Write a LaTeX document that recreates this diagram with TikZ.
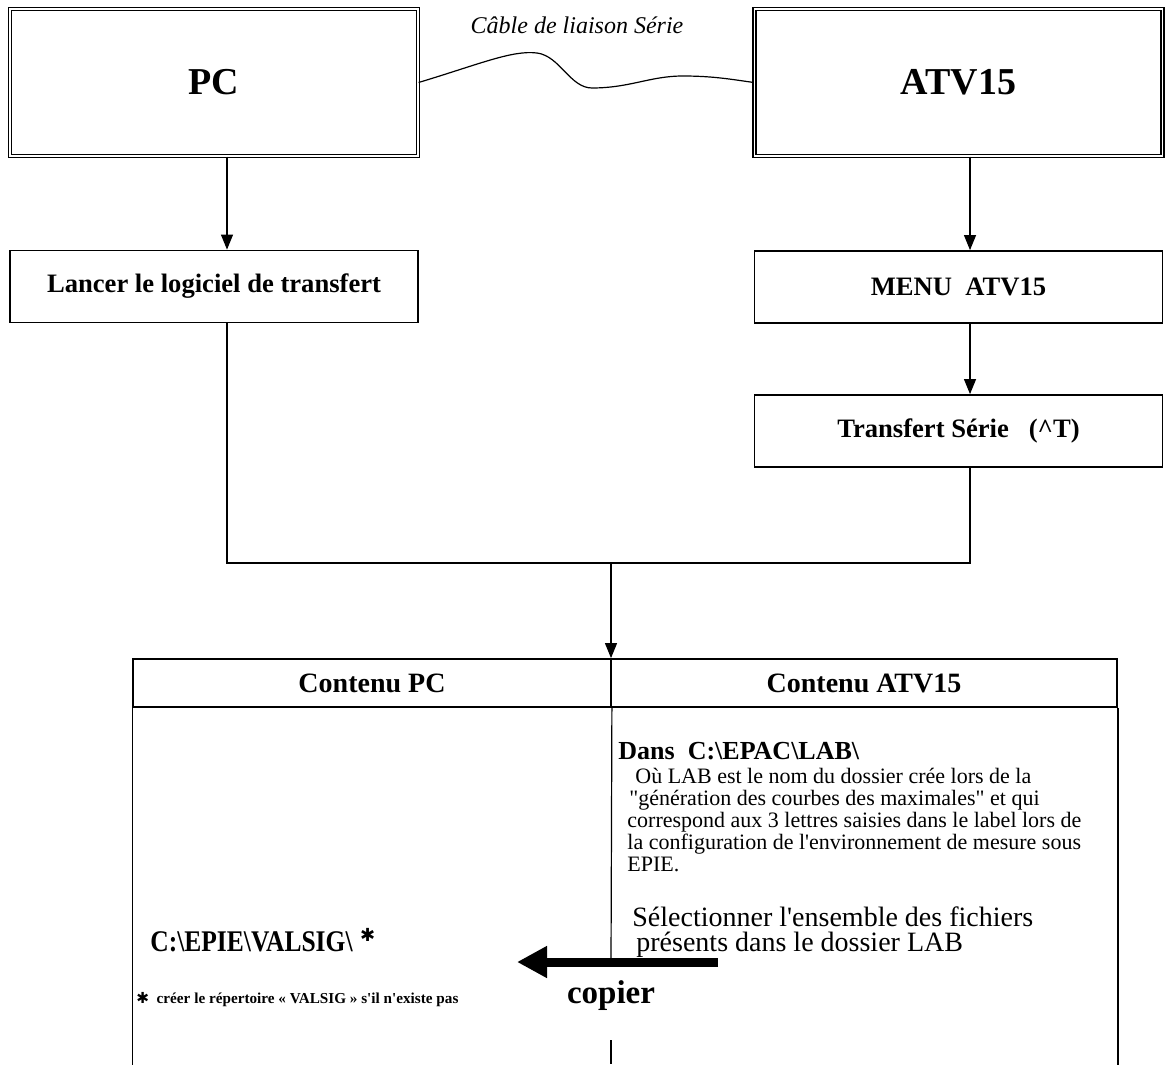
\documentclass[tikz,border=0pt]{standalone}
\usepackage{fontspec}
\setmainfont{Liberation Serif}[Ligatures=TeXOff]
\newfontfamily\symfont{DejaVu Sans}
\usepackage{tikz}
\usetikzlibrary{calc}
\usetikzlibrary{arrows.meta}
\tikzset{>=latex}
\tikzset{bigbox/.style = {draw, double, double distance=0.9pt, line width=0.6pt,
    minimum width=204pt, minimum height=73.5pt, font=\bfseries\fontsize{19}{22}\selectfont}}
\tikzset{stepbox/.style = {draw, line width=0.9pt, minimum width=204pt, minimum height=36pt,
    font=\bfseries\fontsize{13.3}{15}\selectfont}}
\tikzset{headcell/.style = {draw, line width=0.9pt, minimum height=24pt,
    font=\bfseries\fontsize{14}{16}\selectfont}}
\tikzset{arr/.style = {-{Triangle[width=6pt,length=7.5pt]}, line width=0.55pt}}
\tikzset{tbl/.style = {line width=0.6pt}}

\begin{document}
\begin{tikzpicture}[x=0.5pt,y=-0.5pt]
                    \useasboundingbox (0,0) rectangle (1165,1064);

                    \node[bigbox] (pc) at (214,82.5) {PC};
                    \node[bigbox] (atv) at (958.5,82.5) {ATV15};
                    \node[stepbox] (lancer) at (214,286.5) {Lancer le logiciel de transfert};
                    \node[stepbox] (menu) at (958.5,287) {MENU\ \ ATV15};
                    \node[stepbox] (transfert) at (958.5,431) {Transfert Série\ \ \ (\textasciicircum T)};

                    % cable serie
                    \node[font=\itshape\fontsize{12}{14}\selectfont] (cable) at (577,25) {Câble de liaison Série};
                    \draw[line width=0.6pt] (pc.east) .. controls (480,64) and (512,50) .. (537,53)
                        .. controls (560,56) and (570,88) .. (592,88)
                        .. controls (630,88) and (650,76) .. (683,76)
                        .. controls (715,76) and (735,80) .. (atv.west);

                    \coordinate (c1) at (227,0);
                    \coordinate (c2) at (970,0);
                    \coordinate (jn) at (611,563);

                    \draw[arr] (pc.south -| c1) -- (lancer.north -| c1);
                    \draw[arr] (atv.south -| c2) -- (menu.north -| c2);
                    \draw[arr] (menu.south -| c2) -- (transfert.north -| c2);
                    \draw[line width=0.55pt] (lancer.south -| c1) |- (jn) -| (transfert.south -| c2);

                    % tableau
                    \node[headcell, minimum width=239pt] (hpc) at (372,683) {Contenu PC};
                    \node[headcell, minimum width=253pt] (hatv) at (864,683) {Contenu ATV15};
                    \draw[arr] (jn) -- (jn |- hpc.north);
                    \draw[tbl] (hpc.south west) -- +(0,357);
                    \draw[tbl] (hatv.south east) -- +(0,357);
                    \draw[tbl] (hpc.south east) -- (611,962);
                    \draw[tbl] (611,1040) -- (611,1064);

                    \node[anchor=base west, inner sep=0, font=\bfseries\fontsize{13}{15}\selectfont] (dans) at (618,759)
                        {Dans\ \ C:\textbackslash EPAC\textbackslash LAB\textbackslash};
                    \node[anchor=base west, inner sep=0, align=left, font=\fontsize{11}{11}\selectfont] (expl) at (627,871)
                        {\hspace{4pt}Où LAB est le nom du dossier crée lors de la\\
                         \hspace{1pt}"génération des courbes des maximales" et qui\\
                         correspond aux 3 lettres saisies dans le label lors de\\
                         la configuration de l'environnement de mesure sous\\
                         EPIE.};
                    \node[anchor=base west, inner sep=0, align=left, font=\fontsize{14}{12.5}\selectfont] (select) at (632,951)
                        {Sélectionner l'ensemble des fichiers\\
                         \hspace{2pt}présents dans le dossier LAB};

                    \node[anchor=base west, inner sep=0, font=\bfseries\fontsize{15}{17}\selectfont] (valsig) at (150,951)
                        {\scalebox{0.85}[1]{C:\textbackslash EPIE\textbackslash VALSIG\textbackslash}\ \raisebox{5pt}{\symfont\fontsize{9}{9}\selectfont ✱}};
                    \node[anchor=base west, inner sep=0, font=\bfseries\fontsize{7.6}{9}\selectfont] (foot) at (136,1003)
                        {{\symfont ✱}\ \ créer le répertoire « VALSIG » s'il n'existe pas};

                    % copier
                    \coordinate (cpfrom) at (718,962);
                    \coordinate (cpto) at (517,962);
                    \draw[line width=4.5pt, -{Triangle[width=15pt,length=15pt]}] (cpfrom) -- (cpto);
                    \node[inner sep=0, font=\bfseries\fontsize{16.5}{18}\selectfont] (copier) at (611,996) {copier};
                \end{tikzpicture}
\end{document}
